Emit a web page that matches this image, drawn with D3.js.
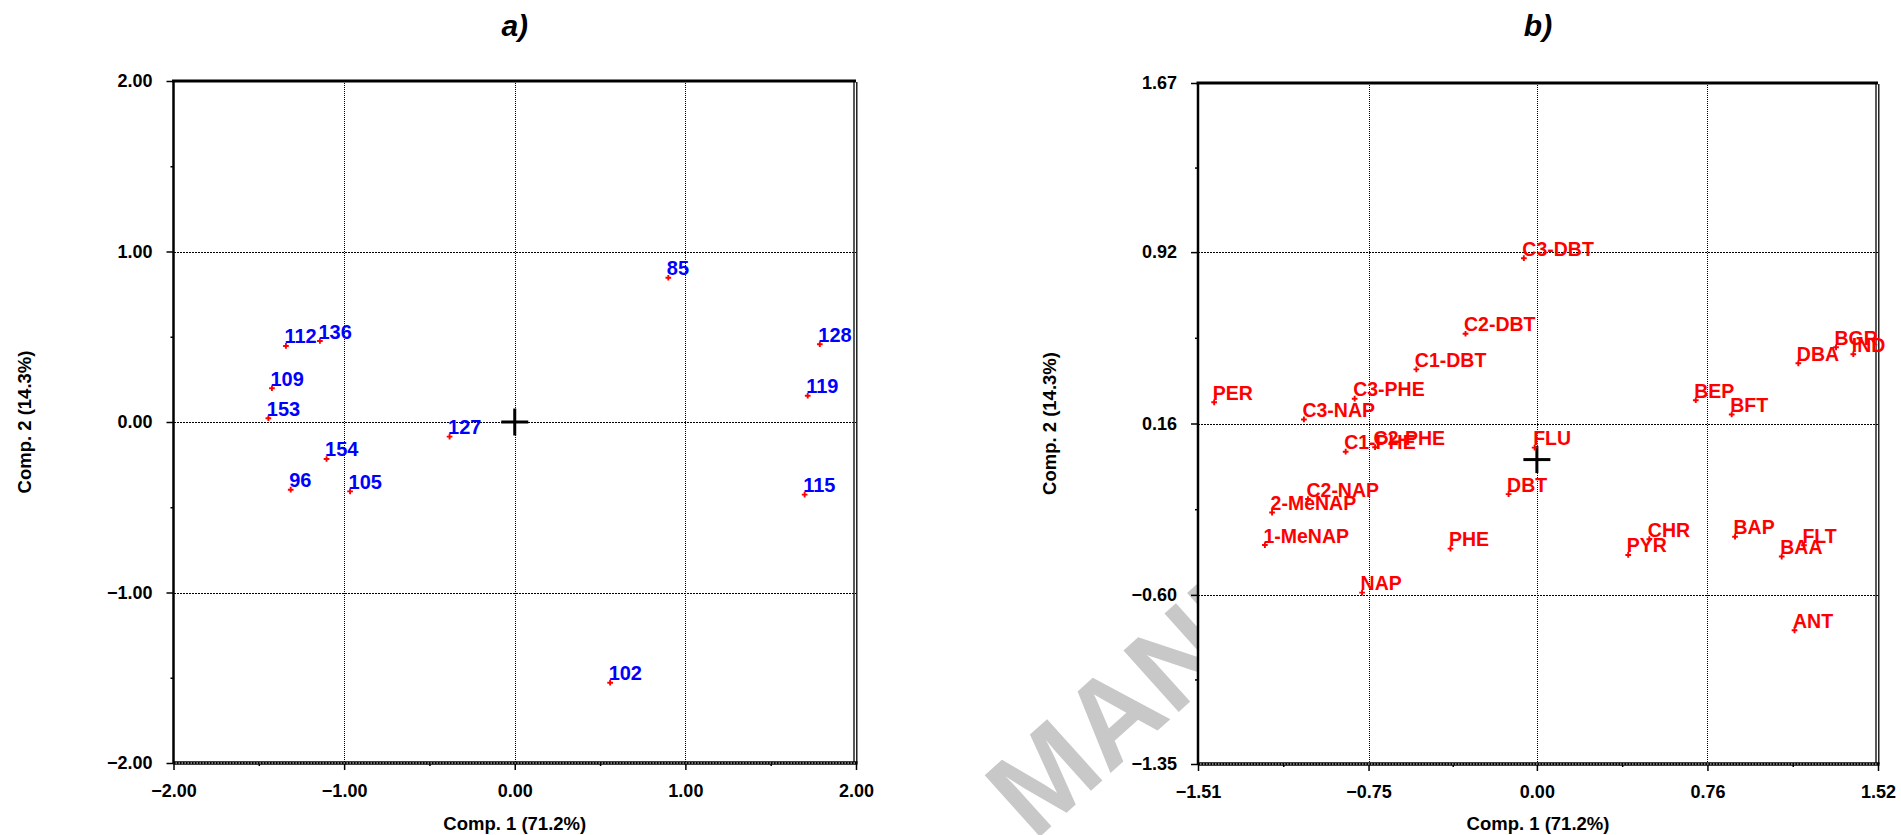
<!DOCTYPE html>
<html><head><meta charset="utf-8">
<script src="https://cdn.jsdelivr.net/npm/d3@7"></script>
<style>
body{margin:0;background:#fff;}
svg{display:block;font-family:"Liberation Sans",Arial,Helvetica,sans-serif;}
</style>
</head><body>
<svg id="c" width="1901" height="835"></svg>
<script>
// ---------- data: panel a (samples) ----------
const samplesA = ["85","112","136","128","109","119","153","127","154","96","105","115","102"];
const comp1A   = [0.900,-1.341,-1.142,1.788,-1.423,1.717,-1.444,-0.382,-1.103,-1.313,-0.965,1.699,0.559];
const comp2A   = [0.846,0.446,0.475,0.456,0.198,0.154,0.022,-0.086,-0.217,-0.397,-0.407,-0.426,-1.529];
const ticksA   = [-2.00,-1.00,0.00,1.00,2.00];

// ---------- data: panel b (compounds) ----------
const compoundsB = ["C3-DBT","C2-DBT","BGR","IND","DBA","C1-DBT","PER","C3-PHE","BEP","BFT","C3-NAP",
                    "C1-PHE","C2-PHE","FLU","DBT","C2-NAP","2-MeNAP","1-MeNAP","PHE","NAP","PYR","CHR",
                    "BAP","BAA","FLT","ANT"];
const comp1B = [-0.058,-0.318,1.333,1.410,1.165,-0.537,-1.438,-0.812,0.708,0.868,-1.038,
                -0.852,-0.721,-0.010,-0.126,-1.020,-1.180,-1.212,-0.385,-0.779,0.407,0.501,
                0.883,1.091,1.190,1.148];
const comp2B = [0.893,0.558,0.498,0.467,0.427,0.400,0.254,0.270,0.263,0.200,0.178,
                0.035,0.055,0.053,-0.153,-0.175,-0.235,-0.379,-0.395,-0.590,-0.423,-0.353,
                -0.342,-0.430,-0.380,-0.757];
const xTicksB = [-1.51,-0.75,0.00,0.76,1.52];
const yTicksB = [-1.35,-0.60,0.16,0.92,1.67];

const titles = ["a)","b)"];
const xTitle = "Comp. 1 (71.2%)";
const yTitle = "Comp. 2 (14.3%)";

const svg = d3.select("#c");
const fmt = d3.format(".2f");

// watermark (partially hidden behind panel b)
svg.append("text")
  .attr("transform","translate(1034,842) rotate(-42)")
  .attr("font-size",120).attr("font-weight","bold")
  .attr("fill","#c8c8c8")
  .text("MANUSCRIPT");

function mids(arr){ const m=[]; for(let i=0;i<arr.length-1;i++) m.push((arr[i]+arr[i+1])/2); return m; }

function panel(cfg){
  const {L,R,T,B,xt,yt,names,xs,ys,color,labelSize,title,yLabX} = cfg;
  const x = d3.scaleLinear().domain([xt[0], xt[xt.length-1]]).range([L,R]);
  const y = d3.scaleLinear().domain([yt[0], yt[yt.length-1]]).range([B,T]);
  const g = svg.append("g");

  g.append("rect").attr("x",L).attr("y",T).attr("width",R-L).attr("height",B-T).attr("fill","#fff");

  // grid
  g.selectAll(".vg").data(xt.slice(1,-1)).join("line")
    .attr("x1",d=>Math.round(x(d))+0.5).attr("x2",d=>Math.round(x(d))+0.5).attr("y1",T).attr("y2",B)
    .attr("stroke","#000").attr("stroke-width",1).attr("stroke-dasharray","1,1")
    .attr("shape-rendering","crispEdges");
  g.selectAll(".hg").data(yt.slice(1,-1)).join("line")
    .attr("x1",L).attr("x2",R).attr("y1",d=>Math.round(y(d))+0.5).attr("y2",d=>Math.round(y(d))+0.5)
    .attr("stroke","#000").attr("stroke-width",1.5).attr("stroke-dasharray","2,1")
    .attr("shape-rendering","crispEdges");

  // axes
  const ax = g.append("g").attr("transform",`translate(0,${B})`)
    .call(d3.axisBottom(x).tickValues(xt).tickSize(7).tickPadding(14).tickFormat(fmt));
  const axm = g.append("g").attr("transform",`translate(0,${B})`)
    .call(d3.axisBottom(x).tickValues(mids(xt)).tickSize(3).tickFormat(""));
  const ay = g.append("g").attr("transform",`translate(${L},0)`)
    .call(d3.axisLeft(y).tickValues(yt).tickSize(7).tickPadding(14).tickFormat(fmt));
  const aym = g.append("g").attr("transform",`translate(${L},0)`)
    .call(d3.axisLeft(y).tickValues(mids(yt)).tickSize(3).tickFormat(""));
  [ax,axm,ay,aym].forEach(a=>{
    a.select(".domain").remove();
    a.selectAll("line").attr("stroke","#000").attr("stroke-width",1.5);
    a.selectAll("text").attr("font-size",18).attr("font-weight","bold").attr("fill","#000")
      .attr("font-family",'"Liberation Sans",Arial,sans-serif');
  });

  // frame
  g.append("line").attr("x1",L-1.5).attr("x2",R).attr("y1",T).attr("y2",T)
    .attr("stroke","#000").attr("stroke-width",3);
  g.append("line").attr("x1",L).attr("x2",L).attr("y1",T).attr("y2",B)
    .attr("stroke","#000").attr("stroke-width",2.5);
  g.append("line").attr("x1",R-2).attr("x2",R-2).attr("y1",T).attr("y2",B)
    .attr("stroke","#000").attr("stroke-width",1.3);
  g.append("line").attr("x1",R+0.8).attr("x2",R+0.8).attr("y1",T+1).attr("y2",B)
    .attr("stroke","#000").attr("stroke-width",1.3);
  g.append("line").attr("x1",L).attr("x2",R+1.5).attr("y1",B).attr("y2",B)
    .attr("stroke","#000").attr("stroke-width",3.6);
  g.append("line").attr("x1",L+2).attr("x2",R).attr("y1",B).attr("y2",B)
    .attr("stroke","#fff").attr("stroke-width",0.9).attr("stroke-dasharray","1.5,1.5");

  // origin cross
  g.append("line").attr("x1",x(0)-13.5).attr("x2",x(0)+13.5).attr("y1",y(0)).attr("y2",y(0))
    .attr("stroke","#000").attr("stroke-width",3);
  g.append("line").attr("x1",x(0)).attr("x2",x(0)).attr("y1",y(0)-13.5).attr("y2",y(0)+13.5)
    .attr("stroke","#000").attr("stroke-width",3);

  // points
  const idx = d3.range(names.length);
  g.selectAll(".pt").data(idx).join("path")
    .attr("d", d3.symbol(d3.symbolCross, 18))
    .attr("transform", i=>`translate(${x(xs[i])},${y(ys[i])})`)
    .attr("fill","#ff0000");
  g.selectAll(".lb").data(idx).join("text")
    .attr("x", i=>x(xs[i])-1.5).attr("y", i=>y(ys[i])-2.5)
    .attr("font-size",labelSize).attr("font-weight","bold").attr("fill",color)
    .text(i=>names[i]);

  // titles
  const cx = (L+R)/2;
  svg.append("text").attr("x",cx).attr("y",36).attr("text-anchor","middle")
    .attr("font-size",30).attr("font-weight","bold").attr("font-style","italic").text(title);
  svg.append("text").attr("x",cx).attr("y",830).attr("text-anchor","middle")
    .attr("font-size",18.5).attr("font-weight","bold").text(xTitle);
  svg.append("text").attr("transform",`translate(${yLabX},${(T+B)/2}) rotate(-90)`)
    .attr("text-anchor","middle").attr("font-size",18.5).attr("font-weight","bold").text(yTitle);
}

panel({L:173.5,R:856,T:81,B:763,xt:ticksA,yt:ticksA,names:samplesA,xs:comp1A,ys:comp2A,
       color:"#0000ff",labelSize:20,title:titles[0],yLabX:31});
panel({L:1198,R:1878,T:83,B:764,xt:xTicksB,yt:yTicksB,names:compoundsB,xs:comp1B,ys:comp2B,
       color:"#ff0000",labelSize:19.5,title:titles[1],yLabX:1056});
</script>
</body></html>
